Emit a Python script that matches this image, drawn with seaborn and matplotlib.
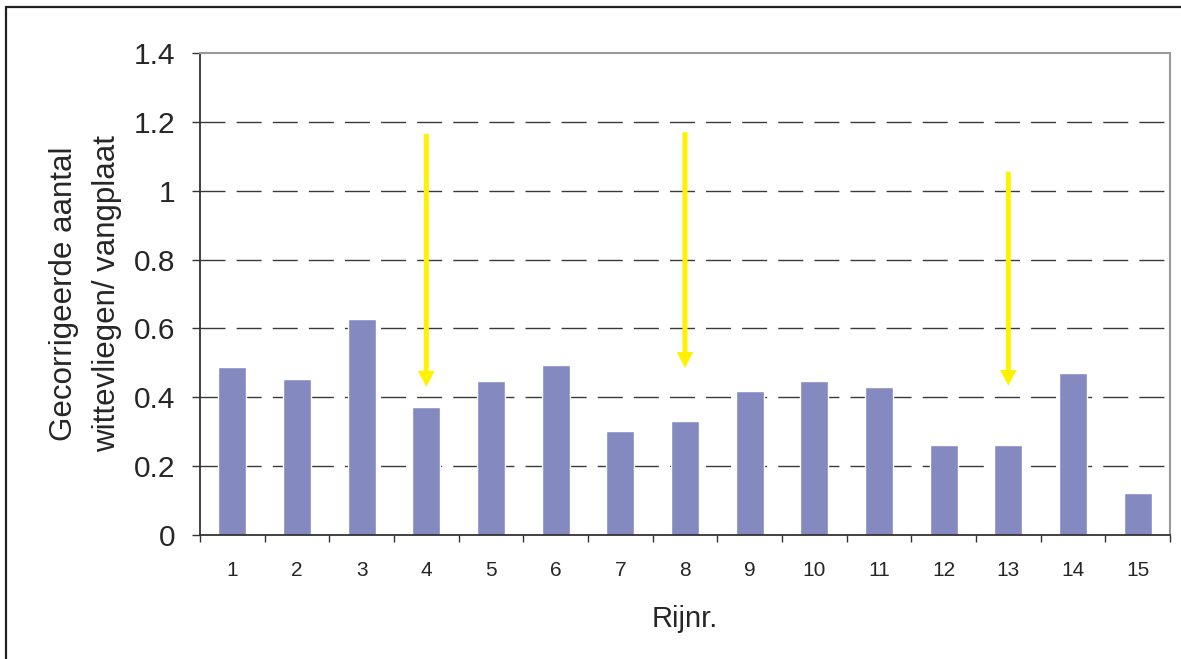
import matplotlib
matplotlib.use("Agg")
import matplotlib.pyplot as plt
import seaborn as sns
import pandas as pd
from matplotlib.patches import Rectangle
from matplotlib.ticker import FixedLocator

# Data
rows = ["1", "2", "3", "4", "5", "6", "7", "8", "9", "10", "11", "12", "13", "14", "15"]
values = [0.489, 0.453, 0.627, 0.372, 0.447, 0.494, 0.302, 0.331, 0.418, 0.447, 0.430, 0.261, 0.261, 0.470, 0.122]
arrow_rows = ["4", "8", "13"]
arrow_start = [1.165, 1.17, 1.055]
arrow_end = [0.43, 0.485, 0.433]
y_ticks = [0, 0.2, 0.4, 0.6, 0.8, 1.0, 1.2, 1.4]
y_tick_labels = ["0", "0.2", "0.4", "0.6", "0.8", "1", "1.2", "1.4"]

sns.set_style("white")
plt.rcParams["font.family"] = ["Liberation Sans", "DejaVu Sans"]

df = pd.DataFrame({"Rijnr.": rows, "waarde": values})

fig = plt.figure(figsize=(11.81, 6.59), dpi=100)
ax = fig.add_axes([200 / 1181, 1 - 535 / 659, 970 / 1181, 482 / 659])

# grid
for yv in y_ticks[1:-1]:
    ax.axhline(yv, color="#3a3a3a", lw=1.0, linestyle=(0, (18, 8)), zorder=0)

sns.barplot(data=df, x="Rijnr.", y="waarde", order=rows, color="#8489C0",
            saturation=1, width=0.43, ax=ax, zorder=2)

ax.set_xlim(-0.5, len(rows) - 0.5)
ax.set_ylim(0, 1.4)
ax.set_yticks(y_ticks)
ax.set_yticklabels(y_tick_labels, fontsize=21.5)
ax.tick_params(axis="y", direction="out", length=6, width=1.0, color="#333333", pad=12, left=True)
ax.tick_params(axis="x", which="major", length=0, pad=19, labelsize=15)
ax.xaxis.set_minor_locator(FixedLocator([i - 0.5 for i in range(len(rows) + 1)]))
ax.tick_params(axis="x", which="minor", direction="out", length=5, width=1.0, color="#333333", bottom=True)

for s in ["left", "bottom"]:
    ax.spines[s].set_color("#333333")
    ax.spines[s].set_linewidth(1.3)
for s in ["top", "right"]:
    ax.spines[s].set_color("#999999")
    ax.spines[s].set_linewidth(1.5)

ax.set_xlabel("Rijnr.", fontsize=21, labelpad=18)
ax.set_ylabel("Gecorrigeerde aantal\nwittevliegen/ vangplaat", fontsize=22.5,
              linespacing=1.56, labelpad=8)

# arrows
for r, s, e in zip(arrow_rows, arrow_start, arrow_end):
    xi = rows.index(r)
    ax.annotate("", xy=(xi, e), xytext=(xi, s),
                arrowprops=dict(width=3.6, headwidth=12, headlength=11.5,
                                shrink=0, color="#FFF200", lw=0),
                zorder=5)

# figure frame
fig.patches.append(Rectangle((6 / 1181, -0.1), 1.2, 1.1 - 7 / 659,
                             transform=fig.transFigure, fill=False,
                             edgecolor="#222222", lw=1.6))

fig.savefig("out.png", dpi=100)
